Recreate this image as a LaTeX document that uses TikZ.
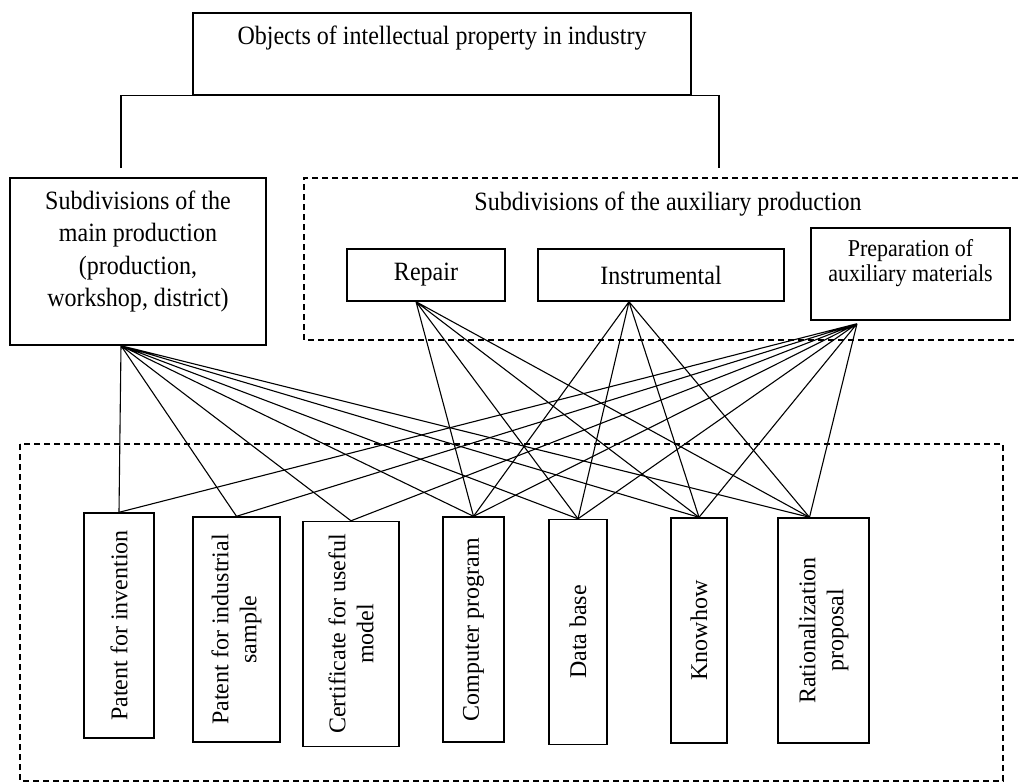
\documentclass[tikz,border=0pt]{standalone}
\usepackage{fontspec}
\setmainfont[FakeStretch=0.91]{Liberation Serif}
\newfontfamily\rotfont{Liberation Serif}
\begin{document}
\begin{tikzpicture}[x=1pt, y=-1pt,
  box/.style={draw, line width=1.4pt, align=center, inner sep=2pt},
  vbox/.style={draw, line width=1.4pt, align=center, rotate=90, inner sep=0pt, minimum width=225pt},
  link/.style={line width=1.1pt},
  frame/.style={line width=1.1pt, dash pattern=on 6pt off 4pt}]
\useasboundingbox (0,0) rectangle (1018,784);
% Set the font sizes
\def\txt{\fontsize{26.4}{32.5}\selectfont}
\def\vtxt{\rotfont\fontsize{24}{28}\selectfont}

% Top box and the bracket under it
\node (top) [box, minimum width=498pt, minimum height=82pt, text depth=38pt, font=\txt] at (442,54) {Objects of intellectual property in industry};
\coordinate (bl) at (121,168);
\coordinate (br) at (719,168);
\draw[link] (bl) |- (top.south) -| (br);

% Main production
\node (main) [box, minimum width=256pt, minimum height=167pt, text depth=26pt, font=\txt] at (138,261.5) {Subdivisions of the\\main production\\(production,\\workshop, district)};

% Auxiliary production
\draw[frame] (1018,178) -- (304,178) -- (304,340) -- (1018,340);
\node (auxtitle) [font=\txt] at (668,204) {Subdivisions of the auxiliary production};
\node (rep) [box, minimum width=158pt, minimum height=52pt, font=\txt] at (426,275) {Repair};
\node (ins) [box, minimum width=246pt, minimum height=52pt, font=\txt] at (661,275) {Instrumental};
\node (prep) [box, minimum width=199pt, minimum height=92pt, text depth=27pt, font=\fontsize{24.2}{25}\selectfont] at (910.5,274) {Preparation of\\auxiliary materials};

% Objects
\draw[frame] (20,444) rectangle (1003,781);
\node (p1) [vbox, minimum height=70pt, font=\vtxt] at (119,625.5) {Patent for invention};
\node (p2) [vbox, minimum height=87pt, font=\vtxt] at (236.5,629.5) {Patent for industrial\\sample};
\node (cert) [vbox, minimum height=96pt, font=\vtxt] at (351,634) {Certificate for useful\\model};
\node (comp) [vbox, minimum height=61pt, font=\vtxt] at (473.5,629.5) {Computer program};
\node (db) [vbox, minimum height=58pt, font=\vtxt] at (578,632) {Data base};
\node (know) [vbox, minimum height=56pt, font=\vtxt] at (699,630.5) {Knowhow};
\node (rat) [vbox, minimum height=91pt, font=\vtxt] at (823.5,630.5) {Rationalization\\proposal};

% Links
\coordinate (mainpt) at ([xshift=-17pt]main.south);
\coordinate (reppt) at ([xshift=-10pt]rep.south);
\coordinate (inspt) at ([xshift=-32pt]ins.south);
\coordinate (prppt) at ([xshift=-53.5pt, yshift=-3pt]prep.south);
\coordinate (ratpt) at ([xshift=-14pt]rat.east);
\draw[link] (mainpt) -- (p1.east) (mainpt) -- (p2.east) (mainpt) -- (cert.east) (mainpt) -- (comp.east)
  (mainpt) -- (db.east) (mainpt) -- (know.east) (mainpt) -- (ratpt);
\draw[link] (reppt) -- (comp.east) (reppt) -- (db.east) (reppt) -- (know.east) (reppt) -- (ratpt);
\draw[link] (inspt) -- (comp.east) (inspt) -- (db.east) (inspt) -- (know.east) (inspt) -- (ratpt);
\draw[link] (prppt) -- (p1.east) (prppt) -- (p2.east) (prppt) -- (cert.east) (prppt) -- (comp.east)
  (prppt) -- (db.east) (prppt) -- (know.east) (prppt) -- (ratpt);
\end{tikzpicture}
\end{document}
